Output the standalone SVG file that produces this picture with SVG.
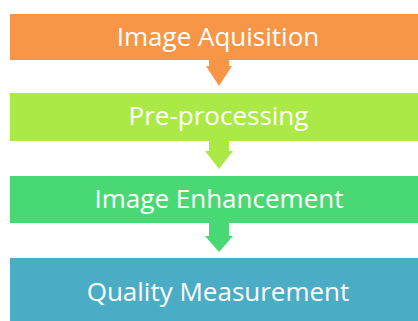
<svg xmlns="http://www.w3.org/2000/svg" width="418" height="321" viewBox="0 0 418 321">
<style>
.t{font-family:"Open Sans","Liberation Sans",sans-serif;font-size:26px;fill:#fff;text-anchor:middle}
</style>
<rect width="418" height="321" fill="#fff"/>
<g id="connectors">
<path d="M209,60 H229 V66 H232 L219,86 L206,66 H209 Z" fill="#F79646"/>
<path d="M209,141 H229 V151 H233 L219,169 L205,151 H209 Z" fill="#ABE946"/>
<path d="M209,223 H229 V236 H233 L219,252 L205,236 H209 Z" fill="#49D974"/>
</g>
<g id="n1"><rect x="10" y="14" width="408" height="46" fill="#F79646"/><text class="t" x="218" y="46">Image Aquisition</text></g>
<g id="n2"><rect x="10" y="93" width="408" height="48" fill="#ABE946"/><text class="t" x="218.5" y="125">Pre-processing</text></g>
<g id="n3"><rect x="10" y="176" width="408" height="47" fill="#49D974"/><text class="t" x="219" y="208">Image Enhancement</text></g>
<g id="n4"><rect x="10" y="258" width="408" height="63" fill="#4BACC6"/><text class="t" x="218" y="301">Quality Measurement</text></g>
</svg>
